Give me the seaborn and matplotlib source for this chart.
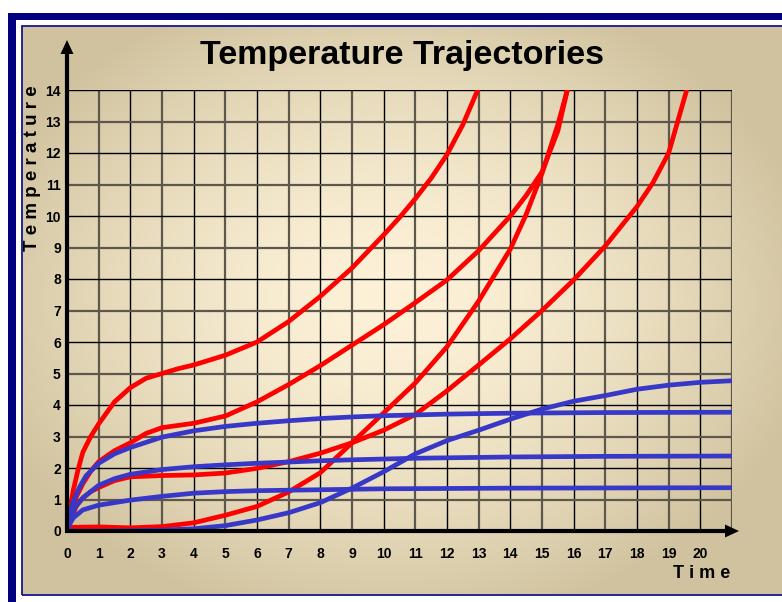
import numpy as np
import pandas as pd
import matplotlib
matplotlib.use("Agg")
import matplotlib.pyplot as plt
import seaborn as sns
from matplotlib.patches import Rectangle, Polygon
from matplotlib.lines import Line2D

# red trajectories
r1_x = [0, 0.1, 0.2, 0.35, 0.5, 0.75, 1, 1.5, 2, 2.5, 3, 3.5, 4, 5, 6, 7, 8, 9, 10, 10.5, 11, 11.5, 12, 12.5, 12.97]
r1_y = [0, 0.7, 1.3, 1.95, 2.5, 3.0, 3.4, 4.1, 4.55, 4.85, 5.0, 5.15, 5.27, 5.58, 6.0, 6.65, 7.45, 8.35, 9.4, 9.95, 10.55, 11.2, 11.95, 12.9, 14.0]
r2_x = [0, 0.15, 0.3, 0.5, 0.75, 1, 1.5, 2, 2.5, 3, 4, 5, 6, 7, 8, 9, 10, 11, 12, 13, 14, 14.5, 15, 15.5, 15.8]
r2_y = [0, 0.6, 1.1, 1.5, 1.9, 2.2, 2.55, 2.8, 3.1, 3.28, 3.42, 3.65, 4.1, 4.65, 5.25, 5.9, 6.55, 7.25, 7.97, 8.9, 10.0, 10.65, 11.4, 12.7, 14.0]
r3_x = [0, 0.15, 0.3, 0.5, 0.75, 1, 1.5, 2, 3, 4, 5, 6, 7, 8, 9, 10, 11, 12, 13, 14, 15, 16, 17, 18, 18.5, 19, 19.57]
r3_y = [0, 0.45, 0.8, 1.05, 1.25, 1.38, 1.6, 1.72, 1.76, 1.78, 1.84, 1.99, 2.2, 2.47, 2.8, 3.2, 3.7, 4.45, 5.27, 6.1, 7.0, 7.97, 9.05, 10.3, 11.05, 12.0, 14.0]
r4_x = [0, 0.15, 0.3, 1, 2, 3, 4, 5, 6, 7, 8, 9, 10, 11, 12, 13, 14, 14.5, 15, 15.5, 15.8]
r4_y = [0, 0.12, 0.12, 0.13, 0.1, 0.14, 0.26, 0.5, 0.78, 1.24, 1.85, 2.8, 3.75, 4.7, 5.85, 7.3, 8.95, 10.05, 11.35, 12.9, 14.0]

# blue trajectories
b1_x = [0, 0.1, 0.2, 0.4, 0.6, 1, 1.5, 2, 3, 4, 5, 6, 7, 8, 9, 10, 12, 14, 17, 21]
b1_y = [0, 0.55, 0.95, 1.4, 1.75, 2.15, 2.45, 2.65, 2.98, 3.18, 3.32, 3.42, 3.5, 3.57, 3.62, 3.66, 3.71, 3.74, 3.76, 3.77]
b2_x = [0, 0.1, 0.25, 0.5, 1, 1.5, 2, 3, 4, 5, 6, 7, 8, 9, 11, 14, 17, 21]
b2_y = [0, 0.4, 0.75, 1.05, 1.45, 1.66, 1.8, 1.95, 2.04, 2.1, 2.15, 2.19, 2.23, 2.26, 2.31, 2.35, 2.37, 2.38]
b3_x = [0, 0.1, 0.2, 0.5, 1, 2, 3, 4, 5, 6, 8, 10, 14, 21]
b3_y = [0, 0.25, 0.42, 0.67, 0.82, 0.98, 1.1, 1.2, 1.25, 1.28, 1.31, 1.34, 1.36, 1.375]
b4_x = [0, 1, 2, 3, 4, 5, 6, 7, 8, 9, 10, 11, 12, 13, 14, 15, 16, 17, 18, 19, 20, 21]
b4_y = [0, 0.0, 0.01, 0.03, 0.07, 0.17, 0.35, 0.58, 0.9, 1.36, 1.88, 2.45, 2.87, 3.2, 3.55, 3.87, 4.12, 4.3, 4.5, 4.63, 4.72, 4.77]

x_ticks = list(range(21))
y_ticks = list(range(15))

sns.set_theme(style="white")
plt.rcParams['font.family'] = ['Liberation Sans', 'DejaVu Sans']

W, H = 782, 602
fig = plt.figure(figsize=(W / 100, H / 100), dpi=100)
fig.patch.set_facecolor('white')

def fx(px):
    return px / W

def fy(py):
    return 1 - py / H

navy = '#000080'
# outer frame bands (top and left)
fig.add_artist(Rectangle((fx(8), fy(H)), fx(16) - fx(8), fy(13) - fy(H),
                         transform=fig.transFigure, color=navy, lw=0))
fig.add_artist(Rectangle((fx(8), fy(20)), 1 - fx(8), fy(13) - fy(20),
                         transform=fig.transFigure, color=navy, lw=0))

# beige panel with soft radial light
bg = fig.add_axes([fx(23), fy(594), fx(W) - fx(23), fy(27) - fy(594)])
yy, xx = np.mgrid[27:594, 23:W]
t = np.sqrt(((xx - 390) / 430.0) ** 2 + ((yy - 300) / 330.0) ** 2)
t = np.clip(t, 0, 1) ** 1.6
c0 = np.array([253, 242, 216]) / 255
c1 = np.array([208, 194, 158]) / 255
img = c0[None, None, :] + (c1 - c0)[None, None, :] * t[:, :, None]
bg.imshow(img, aspect='auto', interpolation='bilinear')
bg.axis('off')

# thin inner border
fig.add_artist(Rectangle((fx(22), fy(595)), 1.2 - fx(22), fy(26) - fy(595),
                         transform=fig.transFigure, fill=False, ec=navy, lw=1.2))

ax = fig.add_axes([fx(67), fy(531), fx(732) - fx(67), fy(90) - fy(531)])
ax.patch.set_alpha(0)
ax.set_xlim(0, 21)
ax.set_ylim(0, 14)
for s in ax.spines.values():
    s.set_visible(False)

for i in range(22):
    ax.axvline(i, color='black' if i % 2 == 0 else '#5e584c', lw=1.0 if i % 2 == 0 else 1.6, zorder=1)
for j in range(15):
    ax.axhline(j, color='black' if j % 2 == 0 else '#5e584c', lw=1.0 if j % 2 == 0 else 1.6, zorder=1)

red = '#ff0000'
blue = '#3838c8'
curves = [(r1_x, r1_y, red), (r2_x, r2_y, red), (r3_x, r3_y, red), (r4_x, r4_y, red),
          (b1_x, b1_y, blue), (b2_x, b2_y, blue), (b3_x, b3_y, blue), (b4_x, b4_y, blue)]
for cx, cy, col in curves:
    sns.lineplot(x=cx, y=cy, ax=ax, color=col, lw=3.4, sort=False, estimator=None,
                 solid_capstyle='round', solid_joinstyle='round', zorder=3)

ax.set_xticks(x_ticks)
ax.set_xticklabels([str(v) for v in x_ticks], fontweight='bold', fontsize=10)
ax.set_yticks(y_ticks)
ax.set_yticklabels([str(v) for v in y_ticks], fontweight='bold', fontsize=10)
ax.tick_params(axis='x', length=0, pad=11.5, colors='black')
ax.tick_params(axis='y', length=0, pad=4.5, colors='black')
ax.set_xlabel('')
ax.set_ylabel('')

# axis arrows
fig.add_artist(Line2D([fx(67), fx(67)], [fy(533), fy(52)], transform=fig.transFigure,
                      color='black', lw=3.0, solid_capstyle='butt'))
fig.add_artist(Polygon([(fx(67), fy(40)), (fx(60.5), fy(54)), (fx(73.5), fy(54))],
                       closed=True, transform=fig.transFigure, color='black', lw=0))
fig.add_artist(Line2D([fx(65), fx(728)], [fy(531), fy(531)], transform=fig.transFigure,
                      color='black', lw=3.0, solid_capstyle='butt'))
fig.add_artist(Polygon([(fx(739), fy(531)), (fx(725), fy(524.5)), (fx(725), fy(537.5))],
                       closed=True, transform=fig.transFigure, color='black', lw=0))

fig.text(fx(402), fy(64), 'Temperature Trajectories', ha='center', va='baseline',
         fontsize=24.5, fontweight='bold', color='black')
fig.text(fx(730), fy(578), 'T i m e', ha='right', va='baseline',
         fontsize=13, fontweight='bold', color='black')
fig.text(fx(33), fy(168), 'T e m p e r a t u r e', ha='center', va='center', rotation=90,
         fontsize=13.5, fontweight='bold', color='black')

fig.savefig('out.png', dpi=100)
